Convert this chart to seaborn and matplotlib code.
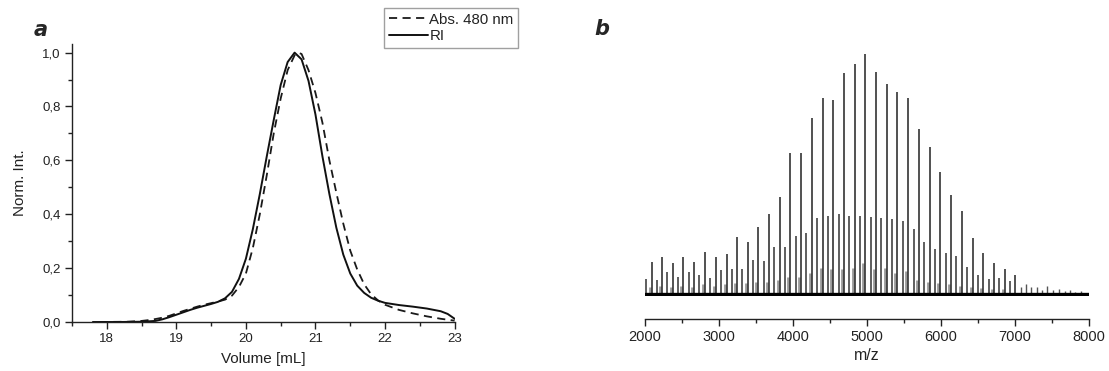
import numpy as np
import pandas as pd
import matplotlib
matplotlib.use("Agg")
import matplotlib.pyplot as plt
from matplotlib.ticker import MultipleLocator, FuncFormatter
import seaborn as sns

# ---------------- Panel a data (SEC traces) ----------------
ri_volume = [17.8, 18.2, 18.5, 18.7, 18.8, 18.9, 19.0, 19.1, 19.2, 19.3, 19.4, 19.5,
             19.6, 19.7, 19.8, 19.9, 20.0, 20.1, 20.2, 20.3, 20.4, 20.5, 20.6, 20.7,
             20.8, 20.9, 21.0, 21.1, 21.2, 21.3, 21.4, 21.5, 21.6, 21.7, 21.8, 21.9,
             22.0, 22.2, 22.4, 22.6, 22.8, 22.9, 23.0]
ri_int = [0.0, 0.0, 0.001, 0.004, 0.010, 0.018, 0.027, 0.036, 0.045, 0.053, 0.060, 0.067,
          0.075, 0.088, 0.112, 0.160, 0.235, 0.345, 0.475, 0.615, 0.750, 0.880, 0.965, 1.000,
          0.975, 0.895, 0.770, 0.615, 0.475, 0.350, 0.250, 0.180, 0.135, 0.108, 0.090, 0.079,
          0.071, 0.063, 0.057, 0.050, 0.040, 0.030, 0.012]

abs_volume = [17.9, 18.3, 18.5, 18.6, 18.7, 18.8, 18.9, 19.0, 19.1, 19.2, 19.3, 19.4,
              19.5, 19.6, 19.7, 19.8, 19.9, 20.0, 20.1, 20.2, 20.3, 20.4, 20.5, 20.6,
              20.7, 20.75, 20.8, 20.9, 21.0, 21.1, 21.2, 21.3, 21.4, 21.5, 21.6, 21.7,
              21.8, 21.9, 22.0, 22.2, 22.4, 22.6, 22.8, 23.0]
abs_int = [0.0, 0.001, 0.004, 0.007, 0.011, 0.016, 0.023, 0.032, 0.041, 0.049, 0.057, 0.064,
           0.070, 0.076, 0.083, 0.098, 0.130, 0.180, 0.275, 0.400, 0.545, 0.700, 0.830, 0.935,
           0.990, 1.000, 0.995, 0.935, 0.850, 0.740, 0.600, 0.480, 0.365, 0.265, 0.195, 0.140,
           0.103, 0.080, 0.064, 0.045, 0.032, 0.021, 0.012, 0.005]

# ---------------- Panel b data (mass spectrum sticks) ----------------
main_mz = [2090, 2230, 2374, 2518, 2662, 2806, 2955, 3104, 3243, 3387, 3531, 3676, 3820,
           3964, 4112, 4257, 4401, 4545, 4689, 4834, 4977, 5122, 5266, 5410, 5558, 5703,
           5847, 5991, 6135, 6284, 6428, 6572, 6716, 6861, 7005]
main_int = [0.135, 0.156, 0.128, 0.153, 0.135, 0.176, 0.156, 0.165, 0.236, 0.218, 0.278,
            0.333, 0.403, 0.586, 0.589, 0.732, 0.815, 0.808, 0.919, 0.957, 1.0, 0.925,
            0.876, 0.843, 0.818, 0.689, 0.614, 0.510, 0.411, 0.347, 0.233, 0.169, 0.131,
            0.103, 0.079]

sec_mz = [2009, 2158, 2302, 2446, 2590, 2734, 2878, 3027, 3176, 3315, 3459, 3604, 3748,
          3892, 4036, 4180, 4328, 4473, 4617, 4761, 4905, 5050, 5194, 5338, 5486, 5631,
          5775, 5919, 6063, 6207, 6351, 6496, 6645, 6788, 6932]
sec_int = [0.061, 0.058, 0.090, 0.069, 0.093, 0.078, 0.067, 0.100, 0.103, 0.103, 0.142,
           0.139, 0.197, 0.194, 0.242, 0.253, 0.315, 0.326, 0.333, 0.326, 0.326, 0.322,
           0.318, 0.312, 0.304, 0.269, 0.218, 0.188, 0.169, 0.160, 0.111, 0.079, 0.061,
           0.067, 0.054]

tail_mz = [7077, 7149, 7221, 7293, 7365, 7437, 7510, 7595, 7670, 7743, 7815, 7886]
tail_int = [0.028, 0.042, 0.030, 0.028, 0.018, 0.034, 0.015, 0.020, 0.012, 0.018, 0.010, 0.011]

sat_mz = [2065, 2205, 2349, 2493, 2637, 2781, 2930, 3079, 3218, 3362, 3506, 3651, 3793,
          3937, 4085, 4230, 4374, 4518, 4662, 4807, 4950, 5095, 5239, 5383, 5531, 5678,
          5822, 5966, 6110, 6259, 6403, 6547, 6691, 6836]
sat_int = [0.030, 0.035, 0.030, 0.035, 0.030, 0.040, 0.035, 0.040, 0.045, 0.045, 0.050,
           0.050, 0.058, 0.069, 0.072, 0.086, 0.110, 0.103, 0.103, 0.107, 0.128, 0.103,
           0.107, 0.086, 0.097, 0.060, 0.050, 0.045, 0.040, 0.035, 0.030, 0.025, 0.020, 0.020]

sns.set_theme(style="ticks")
plt.rcParams['font.family'] = ['Liberation Sans', 'DejaVu Sans']
plt.rcParams['axes.linewidth'] = 1.0

W, H = 1109, 371
fig = plt.figure(figsize=(W / 100, H / 100), dpi=100)
fig.patch.set_facecolor('white')

# ---------- Panel a ----------
axa = fig.add_axes([72 / W, 1 - 322 / H, (454.6 - 72) / W, (322 - 44) / H])
df_ri = pd.DataFrame({"Volume": ri_volume, "Int": ri_int})
df_abs = pd.DataFrame({"Volume": abs_volume, "Int": abs_int})
sns.lineplot(data=df_abs, x="Volume", y="Int", ax=axa, color="#1a1a1a", lw=1.3,
             linestyle=(0, (4.5, 3)), label="Abs. 480 nm", sort=False, estimator=None)
sns.lineplot(data=df_ri, x="Volume", y="Int", ax=axa, color="#111111", lw=1.4,
             label="RI", sort=False, estimator=None)
axa.set_xlim(17.5, 23)
axa.set_ylim(0, 1.032)
axa.xaxis.set_major_locator(MultipleLocator(1))
axa.xaxis.set_minor_locator(MultipleLocator(0.5))
axa.yaxis.set_major_locator(MultipleLocator(0.2))
axa.yaxis.set_minor_locator(MultipleLocator(0.1))
axa.yaxis.set_major_formatter(FuncFormatter(lambda v, p: f"{v:.1f}".replace('.', ',')))
axa.tick_params(which='major', direction='out', length=5, width=1, labelsize=9.5, colors='#222222', pad=3)
axa.tick_params(which='minor', direction='out', length=3, width=1, colors='#222222')
for s in ['top', 'right']:
    axa.spines[s].set_visible(False)
for s in ['left', 'bottom']:
    axa.spines[s].set_color('#222222')
axa.set_xlabel("Volume [mL]", fontsize=11, color='#222222', labelpad=5)
axa.set_ylabel("Norm. Int.", fontsize=11, color='#222222', labelpad=11)
axa.get_legend().remove()
handles, labels = axa.get_legend_handles_labels()
leg = fig.legend(handles, labels, loc='upper left', bbox_to_anchor=(384 / W, 1 - 8 / H),
                 frameon=True, fancybox=False, fontsize=10.8, handlelength=2.6,
                 handletextpad=0.12, labelspacing=0.2, borderpad=0.3, borderaxespad=0)
leg.get_frame().set_edgecolor('#888888')
leg.get_frame().set_linewidth(1.0)
for t in leg.get_texts():
    t.set_color('#222222')

fig.text(41 / W, 1 - 30 / H, "a", fontsize=15, fontweight='bold', fontstyle='italic',
         ha='center', va='center', family='DejaVu Sans')

# ---------- Panel b ----------
bottom_px = 296.4
top_px = 39.6
axb = fig.add_axes([645 / W, 1 - bottom_px / H, (1089 - 645) / W, (bottom_px - top_px) / H])
axb.set_xlim(2000, 8000)
axb.set_ylim(-0.01, 1.06)
axb.vlines(sat_mz, 0, sat_int, color='#9a9a9a', lw=2.0)
axb.vlines(sec_mz, 0, sec_int, color='#333333', lw=1.1)
axb.vlines(main_mz, 0, main_int, color='#333333', lw=1.2)
axb.vlines(tail_mz, 0, tail_int, color='#555555', lw=1.0)
axb.axhline(0, color='black', lw=2.4)
axb.xaxis.set_major_locator(MultipleLocator(1000))
axb.xaxis.set_minor_locator(MultipleLocator(500))
axb.set_yticks([])
for s in ['top', 'right', 'left']:
    axb.spines[s].set_visible(False)
axb.spines['bottom'].set_position(('outward', 16.3))
axb.spines['bottom'].set_color('#222222')
axb.tick_params(which='major', axis='x', direction='out', length=5, width=1, labelsize=10.5, colors='#222222', pad=3)
axb.tick_params(which='minor', axis='x', direction='out', length=3, width=1, colors='#222222')
axb.set_xlabel("m/z", fontsize=11.5, color='#222222', labelpad=3)
axb.set_facecolor('none')

fig.text(602 / W, 1 - 29 / H, "b", fontsize=15, fontweight='bold', fontstyle='italic',
         ha='center', va='center', family='DejaVu Sans')

fig.savefig("out.png", dpi=100, facecolor='white')
